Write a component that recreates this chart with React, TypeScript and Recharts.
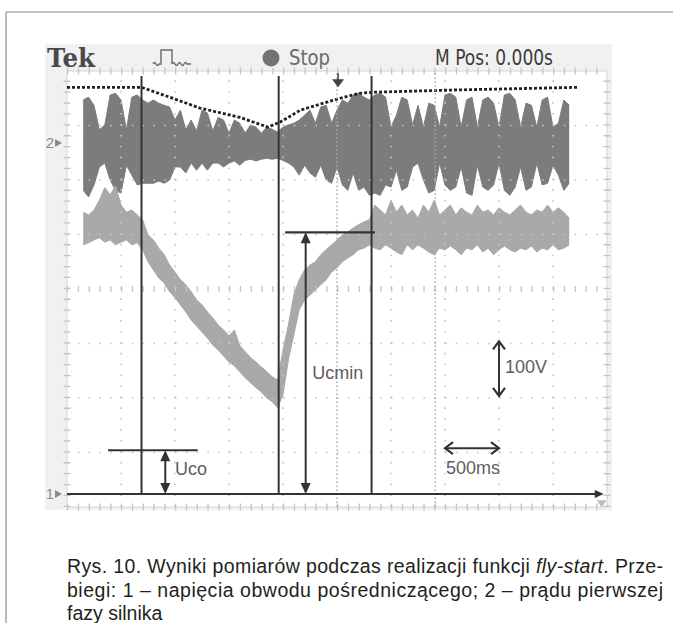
import React from "react";
import {
  ComposedChart,
  Area,
  Line,
  XAxis,
  YAxis,
  ReferenceLine,
  ReferenceDot,
} from "recharts";

// time axis, seconds (500 ms/div, M Pos 0.000 s at the centre)
const timeS = [
  -2.35, -2.3, -2.25, -2.2, -2.15, -2.1, -2.05, -2.0, -1.95, -1.9, -1.85,
  -1.8, -1.75, -1.7, -1.65, -1.6, -1.55, -1.5, -1.45, -1.4, -1.35,
  -1.3, -1.25, -1.2, -1.15, -1.1, -1.05, -1.0, -0.95, -0.9, -0.85,
  -0.8, -0.75, -0.7, -0.65, -0.6, -0.55, -0.5, -0.45, -0.4, -0.35,
  -0.3, -0.25, -0.2, -0.15, -0.1, -0.05, 0.0, 0.05, 0.1, 0.15,
  0.2, 0.25, 0.3, 0.35, 0.4, 0.45, 0.5, 0.55, 0.6, 0.65,
  0.7, 0.75, 0.8, 0.85, 0.9, 0.95, 1.0, 1.05, 1.1, 1.15,
  1.2, 1.25, 1.3, 1.35, 1.4, 1.45, 1.5, 1.55, 1.6, 1.65,
  1.7, 1.75, 1.8, 1.85, 1.9, 1.95, 2.0, 2.05, 2.1, 2.15,
];

// channel 2 – motor phase current (10 units/div), upper and lower edge of trace
const ch2Hi = [
  8.3, 8.8, 7.3, 2.8, 3.7, 9.2, 9.5, 8.3, 2.8, 8.8, 9.2,
  8.3, 7.7, 8.3, 7.7, 7.3, 7.0, 4.6, 6.4, 2.8, 4.6,
  2.6, 6.4, 5.9, 2.6, 5.1, 4.6, 2.2, 4.6, 4.0, 2.2,
  3.7, 3.3, 2.2, 3.3, 2.9, 2.4, 3.3, 3.7, 4.0, 4.6,
  5.5, 6.4, 4.0, 7.0, 7.3, 4.0, 6.4, 8.3, 7.7, 9.2,
  9.5, 8.8, 8.3, 9.2, 9.5, 8.8, 3.3, 5.5, 8.8, 8.3,
  3.7, 7.3, 3.3, 7.7, 7.3, 3.3, 9.2, 9.5, 8.8, 3.3,
  8.3, 8.8, 3.3, 8.3, 8.8, 7.7, 3.3, 9.2, 9.5, 8.3,
  3.3, 7.7, 7.3, 3.3, 8.3, 8.8, 3.3, 4.0, 8.3, 7.3,
];
const ch2Lo = [
  -8.3, -9.5, -7.3, -4.0, -3.3, -6.4, -8.3, -8.8, -3.7, -5.5, -7.3,
  -7.0, -7.0, -7.0, -6.6, -7.0, -6.4, -4.0, -4.0, -5.1, -3.3,
  -4.6, -3.3, -4.6, -3.3, -3.3, -4.0, -3.3, -2.9, -3.7, -2.8,
  -2.6, -2.9, -2.6, -2.4, -2.6, -2.4, -2.8, -3.3, -4.0, -5.5,
  -3.7, -5.1, -5.9, -3.7, -6.4, -7.0, -4.0, -7.3, -8.3, -5.1,
  -8.3, -7.7, -9.2, -8.8, -9.2, -7.3, -7.7, -4.6, -8.3, -7.7,
  -4.0, -3.3, -6.4, -8.8, -8.3, -3.3, -7.3, -8.3, -7.7, -4.0,
  -8.8, -9.2, -3.7, -7.7, -8.3, -7.3, -3.3, -8.3, -9.2, -7.7,
  -4.0, -8.3, -7.7, -3.3, -7.3, -7.0, -3.7, -5.5, -8.3, -7.0,
];

// channel 1 – DC-link voltage (V), upper and lower edge of trace
const ch1Hi = [
  517, 512, 521, 539, 562, 549, 565, 530, 517, 521, 512,
  503, 475, 466, 451, 439, 420, 407, 393, 384, 371,
  356, 347, 334, 323, 310, 301, 290, 301, 272, 261,
  250, 242, 233, 224, 215, 209, 264, 310, 365, 393,
  411, 420, 426, 439, 448, 457, 466, 475, 481, 488,
  494, 499, 503, 530, 521, 512, 539, 517, 530, 512,
  521, 506, 530, 517, 539, 512, 521, 530, 512, 525,
  517, 512, 530, 517, 521, 512, 525, 517, 512, 521,
  530, 517, 512, 521, 517, 530, 517, 525, 517, 506,
];
const ch1Lo = [
  457, 461, 466, 470, 462, 466, 457, 462, 466, 457, 461,
  448, 426, 411, 396, 387, 371, 360, 347, 334, 319,
  308, 297, 286, 273, 264, 253, 242, 235, 224, 213,
  204, 195, 187, 176, 169, 158, 182, 246, 292, 338,
  356, 365, 374, 384, 393, 407, 415, 426, 433, 439,
  448, 451, 457, 451, 448, 457, 451, 444, 439, 457,
  448, 457, 451, 444, 439, 451, 448, 455, 448, 439,
  451, 448, 457, 444, 451, 439, 448, 455, 448, 444,
  451, 448, 455, 444, 451, 448, 457, 448, 451, 457,
];

// dotted envelope of the current peaks
const envT = [-2.5, -1.81, -1.55, -1.27, -0.9, -0.64, -0.53, -0.34, -0.16, 0.03, 0.21, 0.33, 1.05, 2.23];
const envI = [10.6, 10.6, 8.8, 6.8, 5.1, 3.3, 4.2, 6.4, 7.5, 8.6, 9.5, 9.7, 10.1, 10.6];

// cursors and annotation values
const cursorT = [-1.81, -0.54, 0.32];
const cursorTopV = 767;
const extraDotT = [0.0, 0.91];
const ucoV = 80;
const ucoSpan = [-2.12, -1.29];
const ucoArrowT = -1.59;
const ucminV = 480;
const ucminSpan = [-0.48, 0.35];
const ucminArrowT = -0.29;
const voltScale = [180, 280];
const voltArrowT = 1.5;
const timeScale = [1.0, 1.5];
const timeArrowV = 84;
const gridT = [-2.0, -1.5, -1.0, -0.5, 0.5, 1.0, 1.5, 2.0];
const gridD = [1, 2, 3, 5, 6, 7];

const rows = timeS.map((t, k) => ({
  t,
  ch1: [ch1Lo[k], ch1Hi[k]],
  ch2: [ch2Lo[k], ch2Hi[k]],
}));
const envData = envT.map((t, k) => ({ t, i: envI[k] }));

const SANS = "'Liberation Sans', Arial, sans-serif";
const NARROW = "'Liberation Sans Narrow', 'DejaVu Sans Condensed', 'Roboto Condensed', 'Liberation Sans', sans-serif";
const GRID = "#c4c4c4";
const INK = "#333333";
const LABEL = "#5e5e5e";

const upHead = (c: string) => (p: any) => (
  <path d={`M${p.cx},${p.cy} l-5,11 l10,0 z`} fill={c} />
);
const downHead = (c: string) => (p: any) => (
  <path d={`M${p.cx},${p.cy} l-5,-11 l10,0 z`} fill={c} />
);
const openUp = (p: any) => (
  <path d={`M${p.cx - 6},${p.cy + 8} L${p.cx},${p.cy} L${p.cx + 6},${p.cy + 8}`} stroke={INK} strokeWidth={2.2} fill="none" />
);
const openDown = (p: any) => (
  <path d={`M${p.cx - 6},${p.cy - 8} L${p.cx},${p.cy} L${p.cx + 6},${p.cy - 8}`} stroke={INK} strokeWidth={2.2} fill="none" />
);
const openLeft = (p: any) => (
  <path d={`M${p.cx + 8},${p.cy - 6} L${p.cx},${p.cy} L${p.cx + 8},${p.cy + 6}`} stroke={INK} strokeWidth={2.2} fill="none" />
);
const openRight = (p: any) => (
  <path d={`M${p.cx - 8},${p.cy - 6} L${p.cx},${p.cy} L${p.cx - 8},${p.cy + 6}`} stroke={INK} strokeWidth={2.2} fill="none" />
);
const label = (txt: string, anchor: "start" | "middle" = "start") => (p: any) => (
  <text x={p.cx} y={p.cy} dy="0.36em" fontFamily={SANS} fontSize={18} fill={LABEL} textAnchor={anchor}>
    {txt}
  </text>
);
const chMarker = (txt: string) => (p: any) => (
  <g>
    <text x={p.cx - 17} y={p.cy} dy="0.36em" fontFamily={SANS} fontSize={15} fill="#8a8a8a" textAnchor="middle">
      {txt}
    </text>
    <path d={`M${p.cx - 12},${p.cy - 4} L${p.cx - 5},${p.cy} L${p.cx - 12},${p.cy + 4} z`} fill="#8a8a8a" />
  </g>
);
const trigArrow = (p: any) => (
  <g>
    <line x1={p.cx} y1={p.cy} x2={p.cx} y2={p.cy + 7} stroke="#444" strokeWidth={1.6} />
    <path d={`M${p.cx - 6},${p.cy + 6} L${p.cx + 6},${p.cy + 6} L${p.cx},${p.cy + 14} z`} fill="#444" />
  </g>
);
const lineEnd = (p: any) => (
  <path d={`M${p.cx},${p.cy} l-9,-4 l0,8 z`} fill={INK} />
);
const trigLevel = (p: any) => (
  <path d={`M${p.cx - 5},${p.cy - 4} L${p.cx + 5},${p.cy - 4} L${p.cx},${p.cy + 3} z`} fill="#bdbdbd" />
);

export default function App() {
  return (
    <div style={{ position: "absolute", left: 0, top: 0, width: 673, height: 623, background: "#ffffff", overflow: "hidden" }}>
      <svg width={673} height={623} style={{ position: "absolute", left: 0, top: 0 }}>
        <line x1={6} y1={12} x2={673} y2={12} stroke="#8c8c8c" strokeWidth={1.2} />
        <line x1={6} y1={12} x2={6} y2={623} stroke="#8c8c8c" strokeWidth={1.2} />
        <rect x={45} y={44} width={567} height={466} fill="#f1f1f1" />
        <rect x={67} y={71} width={540} height={436} fill="#ffffff" stroke="#d6d6d6" strokeWidth={1} />
      </svg>

      <div style={{ position: "absolute", left: 0, top: 0 }}>
        <ComposedChart
          width={673}
          height={623}
          data={rows}
          margin={{ top: 71, right: 66, bottom: 116, left: 67 }}
        >
          <XAxis dataKey="t" type="number" domain={[-2.5, 2.5]} allowDataOverflow hide />
          <YAxis yAxisId="d" type="number" domain={[0, 8]} allowDataOverflow hide />
          <YAxis yAxisId="u" type="number" domain={[-24, 776]} allowDataOverflow hide />
          <YAxis yAxisId="i" type="number" domain={[-66.4, 13.6]} allowDataOverflow hide />

          {gridT.map((t) => (
            <ReferenceLine key={"gx" + t} yAxisId="d" x={t} stroke={GRID} strokeWidth={1.6} strokeDasharray="1.6 9.3" />
          ))}
          {gridD.map((d) => (
            <ReferenceLine key={"gy" + d} yAxisId="d" y={d} stroke={GRID} strokeWidth={1.6} strokeDasharray="1.6 9.2" />
          ))}
          <ReferenceLine yAxisId="d" y={4} stroke={GRID} strokeWidth={6} strokeDasharray="1.3 9.5" />
          <ReferenceLine yAxisId="d" y={8} stroke={GRID} strokeWidth={7} strokeDasharray="1.3 9.5" />
          <ReferenceLine yAxisId="d" y={0} stroke={GRID} strokeWidth={7} strokeDasharray="1.3 9.5" />
          <ReferenceLine yAxisId="d" x={-2.5} stroke={GRID} strokeWidth={7} strokeDasharray="1.3 9.6" />
          <ReferenceLine yAxisId="d" x={2.5} stroke={GRID} strokeWidth={7} strokeDasharray="1.3 9.6" />

          <Area
            yAxisId="i"
            dataKey="ch2"
            type="linear"
            stroke="#7c7c7c"
            strokeWidth={1}
            fill="#7c7c7c"
            fillOpacity={1}
            dot={false}
            activeDot={false}
            isAnimationActive={false}
          />
          <Area
            yAxisId="u"
            dataKey="ch1"
            type="linear"
            stroke="#a9a9a9"
            strokeWidth={1}
            fill="#a9a9a9"
            fillOpacity={1}
            dot={false}
            activeDot={false}
            isAnimationActive={false}
          />
          <Line
            yAxisId="i"
            data={envData}
            dataKey="i"
            type="linear"
            stroke="#222222"
            strokeWidth={2.8}
            strokeDasharray="3 2"
            dot={false}
            activeDot={false}
            isAnimationActive={false}
          />

          {extraDotT.map((t) => (
            <ReferenceLine key={"dv" + t} yAxisId="d" x={t} stroke="#a8a8a8" strokeWidth={1.5} strokeDasharray="1.5 2.5" />
          ))}

          {cursorT.map((t) => (
            <ReferenceLine
              key={"c" + t}
              yAxisId="u"
              segment={[{ x: t, y: 0 }, { x: t, y: cursorTopV }]}
              stroke={INK}
              strokeWidth={2}
            />
          ))}

          <ReferenceLine yAxisId="u" segment={[{ x: -2.5, y: 0 }, { x: 2.44, y: 0 }]} stroke={INK} strokeWidth={2} />
          <ReferenceDot yAxisId="u" x={2.47} y={0} r={0} shape={lineEnd} />

          <ReferenceLine yAxisId="u" segment={[{ x: ucoSpan[0], y: ucoV }, { x: ucoSpan[1], y: ucoV }]} stroke={INK} strokeWidth={2} />
          <ReferenceLine yAxisId="u" segment={[{ x: ucoArrowT, y: 5 }, { x: ucoArrowT, y: ucoV - 5 }]} stroke={INK} strokeWidth={2} />
          <ReferenceDot yAxisId="u" x={ucoArrowT} y={ucoV} r={0} shape={upHead(INK)} />
          <ReferenceDot yAxisId="u" x={ucoArrowT} y={0} r={0} shape={downHead(INK)} />
          <ReferenceDot yAxisId="u" x={-1.5} y={46} r={0} shape={label("Uco")} />

          <ReferenceLine yAxisId="u" segment={[{ x: ucminSpan[0], y: ucminV }, { x: ucminSpan[1], y: ucminV }]} stroke={INK} strokeWidth={2.2} />
          <ReferenceLine yAxisId="u" segment={[{ x: ucminArrowT, y: 5 }, { x: ucminArrowT, y: ucminV - 5 }]} stroke={INK} strokeWidth={2} />
          <ReferenceDot yAxisId="u" x={ucminArrowT} y={ucminV} r={0} shape={upHead(INK)} />
          <ReferenceDot yAxisId="u" x={ucminArrowT} y={0} r={0} shape={downHead(INK)} />
          <ReferenceDot yAxisId="u" x={-0.23} y={222} r={0} shape={label("Ucmin")} />

          <ReferenceLine yAxisId="u" segment={[{ x: voltArrowT, y: voltScale[0] }, { x: voltArrowT, y: voltScale[1] }]} stroke={INK} strokeWidth={2} />
          <ReferenceDot yAxisId="u" x={voltArrowT} y={voltScale[1]} r={0} shape={openUp} />
          <ReferenceDot yAxisId="u" x={voltArrowT} y={voltScale[0]} r={0} shape={openDown} />
          <ReferenceDot yAxisId="u" x={1.555} y={233} r={0} shape={label("100V")} />

          <ReferenceLine yAxisId="u" segment={[{ x: timeScale[0], y: timeArrowV }, { x: timeScale[1], y: timeArrowV }]} stroke={INK} strokeWidth={2} />
          <ReferenceDot yAxisId="u" x={timeScale[0]} y={timeArrowV} r={0} shape={openLeft} />
          <ReferenceDot yAxisId="u" x={timeScale[1]} y={timeArrowV} r={0} shape={openRight} />
          <ReferenceDot yAxisId="u" x={1.26} y={48} r={0} shape={label("500ms", "middle")} />

          <ReferenceDot yAxisId="u" x={0.01} y={772} r={0} shape={trigArrow} />
          <ReferenceDot yAxisId="u" x={-2.5} y={0} r={0} shape={chMarker("1")} ifOverflow="visible" />
          <ReferenceDot yAxisId="i" x={-2.5} y={0.4} r={0} shape={chMarker("2")} ifOverflow="visible" />
          <ReferenceDot yAxisId="d" x={2.45} y={0.05} r={0} shape={trigLevel} />
        </ComposedChart>
      </div>

      <svg width={673} height={623} style={{ position: "absolute", left: 0, top: 0, pointerEvents: "none" }}>
        <text x={47} y={67} fontFamily="'DejaVu Serif', 'Liberation Serif', serif" fontWeight="bold" fontSize={26} fill="#4a4a4a" textLength={48} lengthAdjust="spacingAndGlyphs">
          Tek
        </text>
        <path
          d="M153,64 q1.5,-3 3,0 q1.5,3 3,0 L161,64 L161,50 L172,50 L172,64 q1.5,-3 3,0 q1.5,3 3,0 q1.5,-3 3,0 q1.5,3 3,0 q1.5,-3 3,0 L191,64"
          stroke="#6a6a6a"
          strokeWidth={1.4}
          fill="none"
        />
        <circle cx={271} cy={58} r={8.5} fill="#737373" />
        <text x={289} y={65} fontFamily={NARROW} fontSize={21} fill="#6a6a6a" textLength={41} lengthAdjust="spacingAndGlyphs">
          Stop
        </text>
        <text x={435} y={65} fontFamily={NARROW} fontSize={21} fill="#3c3c3c" textLength={118} lengthAdjust="spacingAndGlyphs">
          M Pos: 0.000s
        </text>

        <text x={67} y={573} fontFamily={SANS} fontSize={19.5} fill="#231f20" textLength={596} lengthAdjust="spacing">
          Rys. 10. Wyniki pomiarów podczas realizacji funkcji <tspan fontStyle="italic">fly-start</tspan>. Prze-
        </text>
        <text x={67} y={597} fontFamily={SANS} fontSize={19.5} fill="#231f20" textLength={596} lengthAdjust="spacing">
          biegi: 1 – napięcia obwodu pośredniczącego; 2 – prądu pierwszej
        </text>
        <text x={67} y={620} fontFamily={SANS} fontSize={19.5} fill="#231f20">
          fazy silnika
        </text>
      </svg>
    </div>
  );
}
